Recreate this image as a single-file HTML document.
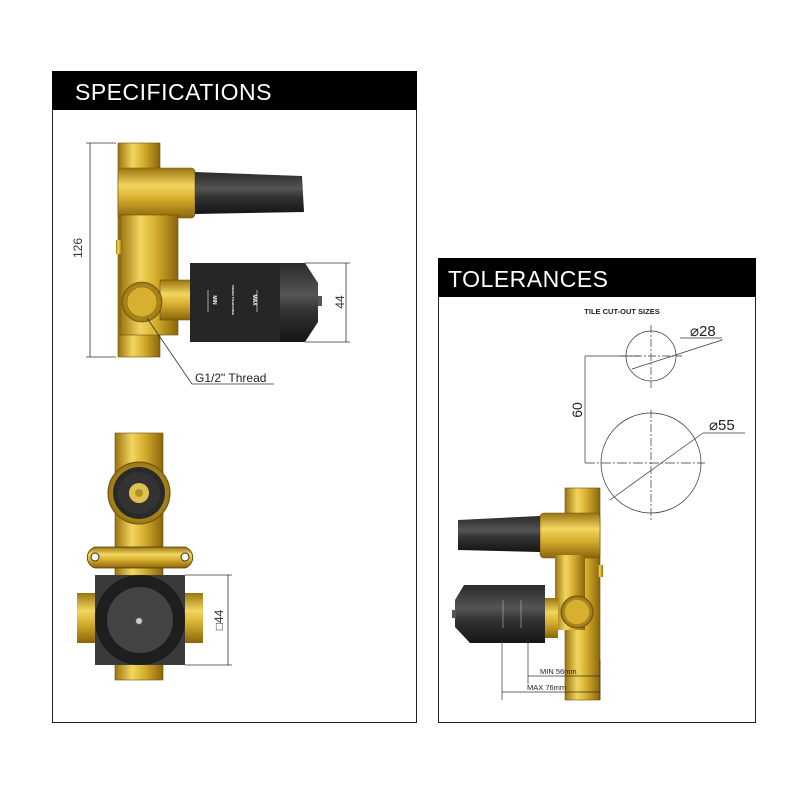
<!DOCTYPE html>
<html><head><meta charset="utf-8"><style>
html,body{margin:0;padding:0;background:#fff;}
svg{display:block;}
text{font-family:"Liberation Sans",sans-serif;}
</style></head><body>
<svg width="800" height="800" viewBox="0 0 800 800" xmlns="http://www.w3.org/2000/svg">
<defs>
<linearGradient id="gv" x1="0" x2="1" y1="0" y2="0">
<stop offset="0" stop-color="#9a7410"/><stop offset="0.35" stop-color="#f2d660"/><stop offset="0.6" stop-color="#d8b030"/><stop offset="1" stop-color="#8a6508"/></linearGradient>
<linearGradient id="gh" x1="0" x2="0" y1="0" y2="1">
<stop offset="0" stop-color="#9a7410"/><stop offset="0.35" stop-color="#f2d660"/><stop offset="0.6" stop-color="#d8b030"/><stop offset="1" stop-color="#8a6508"/></linearGradient>
<linearGradient id="bk" x1="0" x2="0" y1="0" y2="1">
<stop offset="0" stop-color="#2a2a2a"/><stop offset="0.4" stop-color="#555"/><stop offset="0.6" stop-color="#333"/><stop offset="1" stop-color="#151515"/></linearGradient>
<radialGradient id="rg"><stop offset="0" stop-color="#f2d660"/><stop offset="1" stop-color="#9a7410"/></radialGradient>
</defs>
<rect width="800" height="800" fill="#fff"/>
<!-- panels -->
<rect x="52.5" y="71.5" width="364" height="651" fill="none" stroke="#222" stroke-width="1"/>
<rect x="52" y="71" width="365" height="39" fill="#000"/>
<text x="75" y="100" fill="#fff" font-size="23" letter-spacing="0.5">SPECIFICATIONS</text>
<rect x="438.5" y="258.5" width="317" height="464" fill="none" stroke="#222" stroke-width="1"/>
<rect x="438" y="258" width="318" height="39" fill="#000"/>
<text x="448" y="287" fill="#fff" font-size="23" letter-spacing="0.5">TOLERANCES</text>

<!-- TOP LEFT side view -->
<rect x="118" y="143" width="42" height="214" fill="url(#gv)" stroke="#6a5010" stroke-width="0.6"/>
<rect x="118" y="168" width="77" height="50" rx="4" fill="url(#gh)" stroke="#6a5010" stroke-width="0.6"/>
<rect x="120" y="215" width="58" height="120" fill="url(#gv)" stroke="#6a5010" stroke-width="0.6"/>
<rect x="160" y="280" width="32" height="40" fill="url(#gh)" stroke="#6a5010" stroke-width="0.6"/>
<rect x="116" y="240" width="6" height="14" fill="url(#gv)"/>
<path d="M195 172 L302 176 L304 212 L195 214 Z" fill="url(#bk)"/>
<rect x="190" y="263" width="90" height="79" fill="#262626"/>
<path d="M280 263 L305 263 L318 283 L318 322 L305 342 L280 342 Z" fill="url(#bk)"/>
<rect x="318" y="296" width="4" height="10" fill="#555"/>
<g fill="#fff" font-size="5" font-weight="bold">
<text transform="translate(213,300) rotate(90)" text-anchor="middle">MIN</text>
<text transform="translate(253,300) rotate(90)" text-anchor="middle">MAX</text>
<text transform="translate(232,300) rotate(90)" text-anchor="middle" font-size="3">PHOEN TOLERANCE</text>
</g>
<line x1="208" y1="290" x2="208" y2="312" stroke="#fff" stroke-width="0.6"/>
<line x1="257" y1="290" x2="257" y2="312" stroke="#fff" stroke-width="0.6"/>
<circle cx="142" cy="302" r="20" fill="url(#rg)" stroke="#6a5010" stroke-width="0.8"/>
<circle cx="142" cy="302" r="15" fill="#d8b030" stroke="#8a6508" stroke-width="0.6"/>
<g stroke="#333" stroke-width="0.8" fill="none">
<line x1="90" y1="143" x2="90" y2="357"/>
<line x1="86" y1="143" x2="116" y2="143"/>
<line x1="86" y1="357" x2="116" y2="357"/>
<line x1="346" y1="263" x2="346" y2="342"/>
<line x1="305" y1="263" x2="350" y2="263"/>
<line x1="305" y1="342" x2="350" y2="342"/>
<polyline points="147,318 192,384 274,384"/>
</g>
<text transform="translate(82,248) rotate(-90)" text-anchor="middle" font-size="12" fill="#333">126</text>
<text transform="translate(344,302) rotate(-90)" text-anchor="middle" font-size="12" fill="#333">44</text>
<text x="195" y="382" font-size="12" fill="#222">G1/2" Thread</text>

<!-- BOTTOM LEFT front view -->
<rect x="115" y="433" width="48" height="247" fill="url(#gv)" stroke="#6a5010" stroke-width="0.6"/>
<path d="M95 547 L185 547 A11 11 0 0 1 185 568 L95 568 A11 11 0 0 1 95 547 Z" fill="url(#gh)" stroke="#4a3808" stroke-width="0.8"/>
<circle cx="95" cy="557" r="4" fill="#fff" stroke="#333"/>
<circle cx="185" cy="557" r="4" fill="#fff" stroke="#333"/>
<circle cx="139" cy="493" r="31" fill="url(#rg)" stroke="#6a5010"/>
<circle cx="139" cy="493" r="26" fill="#2a2a2a"/>
<circle cx="139" cy="493" r="21" fill="#333"/>
<circle cx="139" cy="493" r="10" fill="#e0c050"/>
<circle cx="139" cy="493" r="4" fill="#b09020"/>
<rect x="77" y="593" width="20" height="50" fill="url(#gh)"/>
<rect x="183" y="593" width="20" height="50" fill="url(#gh)"/>
<rect x="95" y="575" width="90" height="90" fill="#3a3a3a"/>
<circle cx="140" cy="620" r="45" fill="#1e1e1e"/>
<circle cx="140" cy="620" r="33" fill="#444"/>
<circle cx="139" cy="621" r="3.5" fill="#ccc" stroke="#555"/>
<g stroke="#333" stroke-width="0.8">
<line x1="228" y1="575" x2="228" y2="665"/>
<line x1="185" y1="575" x2="232" y2="575"/>
<line x1="185" y1="665" x2="232" y2="665"/>
</g>
<text transform="translate(223,620) rotate(-90)" text-anchor="middle" font-size="12" fill="#333">□44</text>

<!-- TILE CUT-OUT -->
<text x="622" y="314" text-anchor="middle" font-size="7.5" font-weight="bold" fill="#222">TILE CUT-OUT SIZES</text>
<g stroke="#333" stroke-width="0.7" fill="none">
<circle cx="651" cy="356" r="25"/>
<circle cx="651" cy="463" r="50"/>
<line x1="651" y1="325" x2="651" y2="388" stroke-dasharray="8 2 2 2"/>
<line x1="620" y1="356" x2="682" y2="356" stroke-dasharray="8 2 2 2"/>
<line x1="651" y1="410" x2="651" y2="520" stroke-dasharray="8 2 2 2"/>
<line x1="585" y1="356" x2="640" y2="356"/>
<line x1="585" y1="463" x2="705" y2="463" stroke-dasharray="10 2 2 2"/>
<line x1="585" y1="356" x2="585" y2="463"/>
<line x1="632" y1="369" x2="722" y2="340"/>
<line x1="722" y1="340" x2="722" y2="339"/>
<line x1="680" y1="338" x2="722" y2="338"/>
<line x1="610" y1="500" x2="703" y2="433"/>
<line x1="703" y1="433" x2="745" y2="433"/>
</g>
<text x="690" y="336" font-size="15" fill="#222">⌀28</text>
<text x="709" y="430" font-size="15" fill="#222">⌀55</text>
<text transform="translate(582,410) rotate(-90)" text-anchor="middle" font-size="14" fill="#222">60</text>

<!-- BOTTOM RIGHT device -->
<rect x="565" y="488" width="35" height="212" fill="url(#gv)" stroke="#6a5010" stroke-width="0.6"/>
<rect x="540" y="513" width="60" height="45" rx="4" fill="url(#gh)" stroke="#6a5010" stroke-width="0.6"/>
<rect x="555" y="555" width="30" height="75" fill="url(#gv)"/>
<rect x="598" y="565" width="5" height="12" fill="url(#gv)"/>
<path d="M458 520 L540 516 L540 552 L458 550 Z" fill="url(#bk)"/>
<rect x="538" y="598" width="20" height="40" fill="url(#gh)"/>
<path d="M464 585 L545 585 L545 643 L470 643 L455 627 L455 600 Z" fill="url(#bk)"/>
<rect x="452" y="610" width="4" height="8" fill="#555"/>
<line x1="503" y1="600" x2="503" y2="628" stroke="#ccc" stroke-width="0.5"/>
<line x1="521" y1="600" x2="521" y2="628" stroke="#ccc" stroke-width="0.5"/>
<circle cx="577" cy="612" r="16" fill="url(#rg)" stroke="#6a5010"/>
<circle cx="577" cy="612" r="12" fill="#d8b030"/>
<g stroke="#333" stroke-width="0.7">
<line x1="502" y1="640" x2="502" y2="700"/>
<line x1="528" y1="640" x2="528" y2="684"/>
<line x1="600" y1="660" x2="600" y2="700"/>
<line x1="528" y1="676" x2="600" y2="676"/>
<line x1="502" y1="692" x2="600" y2="692"/>
</g>
<text x="540" y="674" font-size="7.5" fill="#222">MIN 56mm</text>
<text x="527" y="690" font-size="7.5" fill="#222">MAX 76mm</text>
</svg>
</body></html>
